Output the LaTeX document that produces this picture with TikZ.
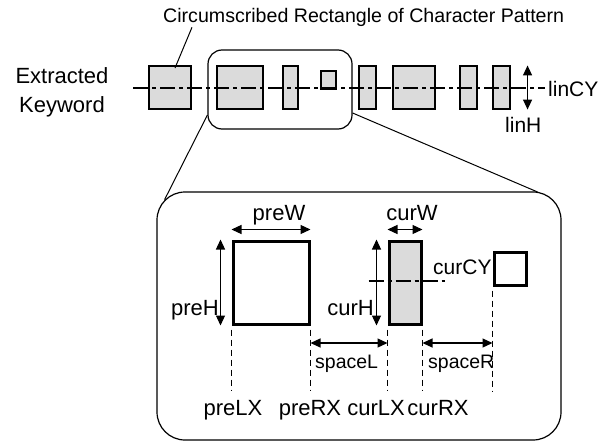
\documentclass[tikz,border=0pt]{standalone}
\usepackage{fontspec}
\setmainfont{Liberation Sans}
\usepackage{tikz}
\usetikzlibrary{arrows.meta}
\definecolor{patgray}{gray}{0.86}

\begin{document}
\begin{tikzpicture}[x=1pt,y=-1pt,
 patbox/.style={draw,fill=patgray,line width=1.1pt,inner sep=0pt},
 thickbox/.style={draw,line width=3pt,inner sep=0pt},
 roundbox/.style={draw,line width=1.2pt,inner sep=0pt},
 dimline/.style={line width=1.2pt,{Triangle[length=10pt,width=9pt]}-{Triangle[length=10pt,width=9pt]}},
 guide/.style={line width=1.9pt,dash pattern=on 6pt off 4pt},
 axisline/.style={line width=1.6pt,dash pattern=on 15pt off 4pt on 4pt off 4pt},
 lbl/.style={inner sep=0pt,font=\fontsize{22}{26}\selectfont},
 small/.style={inner sep=0pt,font=\fontsize{19.5}{23}\selectfont}]
\useasboundingbox (0,0) rectangle (613,442);
% keyword line
\node[small,anchor=base west,font=\fontsize{19.6}{23}\selectfont] (title) at (163,22) {Circumscribed Rectangle of Character Pattern};
\node[lbl,anchor=base] (ext) at (62,83) {Extracted};
\node[lbl,anchor=base] (kwd) at (62,112) {Keyword};
\node[patbox,minimum width=42pt,minimum height=43pt] (k1) at (170,87.5) {};
\node[patbox,minimum width=46pt,minimum height=43pt] (k2) at (240,87.5) {};
\node[patbox,minimum width=15pt,minimum height=43pt] (k3) at (290.5,87.5) {};
\node[patbox,minimum width=15pt,minimum height=18pt] (k4) at (328.5,80) {};
\node[patbox,minimum width=17pt,minimum height=43pt] (k5) at (367.5,87.5) {};
\node[patbox,minimum width=42pt,minimum height=43pt] (k6) at (414,87.5) {};
\node[patbox,minimum width=17pt,minimum height=43pt] (k7) at (468.5,87.5) {};
\node[patbox,minimum width=17pt,minimum height=43pt] (k8) at (501.5,87.5) {};
\coordinate (lineL) at (133,88);
\coordinate (lineR) at (545,88);
\draw[axisline] (lineL) -- (lineR);
\node[lbl,anchor=base west,font=\fontsize{21}{25}\selectfont] (lincy) at (548,96) {linCY};
\draw[dimline] ([xshift=17pt]k8.north east) -- ([xshift=17pt]k8.south east);
\node[lbl,anchor=base west,font=\fontsize{21}{25}\selectfont] (linh) at (505,132) {linH};
\draw[line width=1pt] ([xshift=29pt,yshift=-1pt]title.south west) -- ([xshift=5pt,yshift=19.5pt]k1.center);
\node[roundbox,rounded corners=14pt,minimum width=144pt,minimum height=79pt] (wordbox) at (280,89.5) {};
% enlarged part
\node[roundbox,rounded corners=28pt,minimum width=404pt,minimum height=248pt] (zoombox) at (359,316) {};
\draw[line width=1pt] ([yshift=-25.5pt]wordbox.west) -- ([xshift=8.2pt,yshift=-8.2pt]zoombox.north west);
\draw[line width=1pt] ([yshift=-23.5pt]wordbox.east) -- ([xshift=-24pt,yshift=-0.6pt]zoombox.north east);
\node[thickbox,minimum width=76pt,minimum height=83pt] (pre) at (271,282.5) {};
\node[thickbox,fill=patgray,minimum width=32pt,minimum height=83pt] (cur) at (405,282.5) {};
\node[thickbox,minimum width=32pt,minimum height=33pt] (next) at (510,268.5) {};
\draw[axisline] ([xshift=-19pt,yshift=1.5pt]cur.west) -- ([xshift=22pt,yshift=1.5pt]cur.east);
\node[lbl,anchor=base west,font=\fontsize{21}{25}\selectfont] (curcy) at (433,274) {curCY};
\draw[dimline] ([yshift=10pt]pre.north west) -- ([yshift=10pt]pre.north east);
\draw[dimline] ([yshift=10pt]cur.north west) -- ([yshift=10pt]cur.north east);
\draw[dimline] ([xshift=-11pt]pre.north west) -- ([xshift=-11pt]pre.south west);
\draw[dimline] ([xshift=-11pt]cur.north west) -- ([xshift=-11pt]cur.south west);
\node[lbl,anchor=base] (prew) at (279,220) {preW};
\node[lbl,anchor=base] (curw) at (412,220) {curW};
\node[lbl,anchor=base east] (preh) at (219,315) {preH};
\node[lbl,anchor=base east] (curh) at (374,315) {curH};
\coordinate (base) at (0,391);
\coordinate (sp) at (0,343);
\draw[guide] ([yshift=-4pt]pre.south west) -- (pre.south west |- base);
\draw[guide] ([yshift=-4pt]pre.south east) -- (pre.south east |- base);
\draw[guide] ([yshift=-4pt]cur.south west) -- (cur.south west |- base);
\draw[guide] ([yshift=-4pt]cur.south east) -- (cur.south east |- base);
\draw[guide] ([yshift=-4pt]next.south west) -- (next.south west |- base);
\draw[dimline] (pre.south east |- sp) -- (cur.south west |- sp);
\draw[dimline] (cur.south east |- sp) -- (next.south west |- sp);
\node[small,anchor=base west] (spl) at (315,368) {spaceL};
\node[small,anchor=base west] (spr) at (428,368) {spaceR};
\node[lbl,anchor=base] (prelx) at (233,415) {preLX};
\node[lbl,anchor=base] (prerx) at (310,415) {preRX};
\node[lbl,anchor=base] (curlx) at (376,415) {curLX};
\node[lbl,anchor=base] (currx) at (438,415) {curRX};
\end{tikzpicture}
\end{document}
